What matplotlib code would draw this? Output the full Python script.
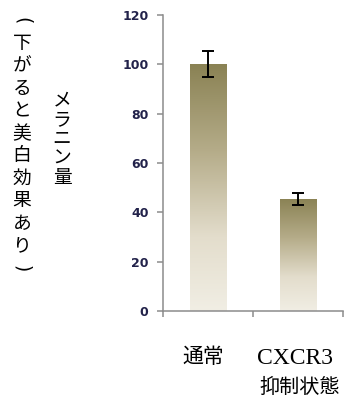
import matplotlib
matplotlib.use("Agg")
import matplotlib.pyplot as plt
import numpy as np
from matplotlib.colors import LinearSegmentedColormap

plt.rcParams["font.family"] = ["Noto Sans CJK JP", "DejaVu Sans"]

# melanin amount, normal vs. CXCR3-suppressed
groups = ["通常", "CXCR3\n抑制状態"]
melanin = [100, 45.5]
melanin_err = [5.2, 2.4]
yticks = [0, 20, 40, 60, 80, 100, 120]

# olive fading to cream, top to bottom of every bar
bar_cmap = LinearSegmentedColormap.from_list(
    "olive_fade",
    [(0.0, "#f1eee4"), (0.3, "#e3ddcc"), (0.65, "#b5ac89"), (1.0, "#8a8254")],
)

fig = plt.figure(figsize=(3.64, 4.03), dpi=100)
ax = fig.add_axes([0.448, 0.228, 0.494, 0.735])

x = np.arange(len(groups)) + 0.5
bars = ax.bar(x, melanin, width=0.41, color="none", edgecolor="none", zorder=2)
grad = np.linspace(0, 1, 256).reshape(-1, 1)
for rect in bars:
    x0, y0 = rect.get_x(), rect.get_y()
    w, h = rect.get_width(), rect.get_height()
    im = ax.imshow(grad, cmap=bar_cmap, origin="lower", aspect="auto",
                   extent=(x0, x0 + w, y0, y0 + h), zorder=2)
    im.set_clip_path(rect)

ax.errorbar(x, melanin, yerr=melanin_err, fmt="none", ecolor="black",
            elinewidth=1.4, capsize=4.3, capthick=1.4, zorder=3)

ax.set_xlim(0, 2)
ax.set_ylim(0, 120)
ax.set_yticks(yticks)
ax.set_yticklabels([str(v) for v in yticks], fontfamily="DejaVu Sans",
                   fontweight="bold", fontsize=9, color="#22224a")
ax.set_xticks([0, 1, 2])
ax.set_xticklabels([])

for side in ("top", "right"):
    ax.spines[side].set_visible(False)
for side in ("left", "bottom"):
    ax.spines[side].set_color("#8c8c8c")
    ax.spines[side].set_linewidth(1.1)
ax.tick_params(axis="both", direction="out", length=4.5, width=1.1,
               color="#8c8c8c", pad=6)

# category labels under the axis
fig.text(203 / 364, 1 - 357 / 403, groups[0], ha="center",
         va="center", fontsize=15, color="black")
cx_x = 257 / 364
fig.text(cx_x, 1 - 358 / 403, groups[1].split("\n")[0], ha="left",
         va="center", fontsize=17, family="Liberation Serif", color="black")
fig.text(cx_x + 2 / 364, 1 - 387 / 403, groups[1].split("\n")[1], ha="left",
         va="center", fontsize=14.5, color="black")


def vertical_text(chars, x_px, y_top_px, pitch_px, size):
    # upright characters stacked top to bottom; parentheses turned a quarter
    for i, ch in enumerate(chars):
        rot = -90 if ch in "()" else 0
        fig.text(x_px / 364, 1 - (y_top_px + i * pitch_px) / 403, ch,
                 ha="center", va="center", fontsize=size, color="black",
                 rotation=rot, rotation_mode="anchor",
                 family="DejaVu Sans" if rot else None)


vertical_text(list("(下がると美白効果あり)"), 22, 21, 22.5, 13.5)
vertical_text(list("メラニン量"), 62, 100, 19.3, 13.5)

fig.savefig("out.png", dpi=100)
